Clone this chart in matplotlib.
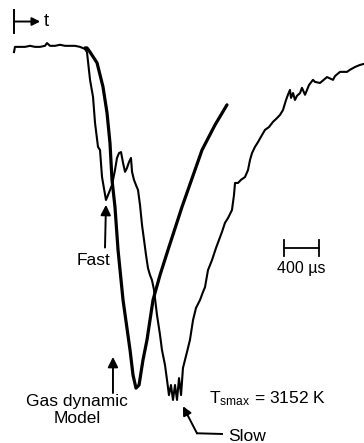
import matplotlib
matplotlib.use("Agg")
import matplotlib.pyplot as plt

# ---- data (time in microseconds, signal as % of the slow-trace maximum deflection) ----
exp_t = [0, 11, 69, 126, 183, 240, 297, 354, 377, 411, 469, 526, 583, 640, 697, 754, 811,
         834, 869, 903, 926, 960, 983, 1006, 1051, 1074, 1120, 1154, 1177, 1200, 1223,
         1246, 1269, 1291, 1314, 1337, 1349, 1371, 1394, 1417, 1440, 1463, 1486, 1509,
         1531, 1554, 1577, 1600, 1634, 1669, 1691, 1726, 1749, 1771, 1794, 1817, 1840,
         1863, 1886, 1909, 1931, 1954, 1977, 2011, 2046, 2080, 2126, 2160, 2183, 2217,
         2263, 2309, 2343, 2377, 2411, 2446, 2491, 2514, 2526, 2560, 2594, 2640, 2674,
         2697, 2720, 2754, 2789, 2834, 2869, 2914, 2960, 3006, 3040, 3074, 3109, 3131,
         3154, 3166, 3189, 3211, 3234, 3269, 3291, 3326, 3349, 3371, 3417, 3440, 3497,
         3577, 3646, 3669, 3726, 3806, 3840, 3897, 3954, 4000]
exp_v = [1.2, -0.3, -0.3, -0.3, -0.6, -0.3, -0.3, -0.6, -1.4, -0.6, -0.6, -0.9, -0.6, -0.6,
         -0.6, -0.3, 0.3,
         1.2, 9.2, 14.1, 21.6, 28.5, 29.4, 37.2, 43.8, 42.4, 39.5, 35.2, 31.7, 30.3, 30.0,
         33.1, 35.7, 34.6, 32.9, 31.7, 35.7, 38.0, 39.5, 40.9, 45.2, 51.0, 55.3, 59.7,
         63.4, 65.4, 66.9, 69.7, 76.9, 82.7, 87.0, 91.4, 95.7, 100.0, 97.1, 101.4, 97.1,
         101.4, 95.1, 100.0, 92.2, 89.9, 87.6, 84.1, 78.4, 74.9, 72.6, 70.3, 68.9, 64.0,
         61.1, 57.6, 55.3, 53.0, 50.4, 49.0, 46.7, 42.4, 38.9, 38.9, 38.0, 37.2, 35.2,
         32.3, 30.3, 28.5, 27.1, 25.1, 23.6, 22.8, 21.3, 20.2, 19.3, 17.9, 15.0, 13.5,
         12.1, 14.4, 13.0, 15.0, 13.8, 13.0, 11.5, 13.5, 12.1, 10.7, 9.2, 9.8, 10.1,
         8.4, 9.2, 8.1, 6.9, 6.9, 6.3, 5.5, 4.9, 4.6]

model_t = [811, 834, 869, 949, 1017, 1063, 1097, 1120, 1154, 1189, 1246, 1326, 1360, 1394,
           1429, 1474, 1520, 1589, 1669, 1760, 1920, 2149, 2297, 2434]
model_v = [0.0, 0.0, 1.2, 4.3, 11.2, 18.7, 27.4, 38.0, 45.8, 58.2, 72.6, 87.0, 94.2, 98.0,
           97.1, 89.9, 84.1, 72.6, 65.4, 58.2, 45.8, 29.4, 22.2, 16.4]

scale_bar_us = 400
t_smax_K = 3152

# ---- figure ----
plt.rcParams['font.family'] = ['Liberation Sans', 'DejaVu Sans']
plt.rcParams['mathtext.default'] = 'regular'

fig = plt.figure(figsize=(3.64, 4.43), dpi=100)
ax = fig.add_axes([0, 0, 1, 1])
ax.set_xlim(-160, 4000)
ax.set_ylim(113.8, -13.8)
ax.axis('off')

ax.plot(exp_t, exp_v, color='black', lw=1.5, solid_joinstyle='round')
ax.plot(model_t, model_v, color='black', lw=2.3, solid_joinstyle='round',
        solid_capstyle='round')

fs = 12.5
# time-direction marker
ax.plot([0, 0], [-10.9, -4.4], color='black', lw=1.4)
ax.annotate('', xy=(300, -7.6), xytext=(0, -7.6),
            arrowprops=dict(arrowstyle='-|>', color='black', lw=1.4,
                            mutation_scale=12, shrinkA=0, shrinkB=0))
ax.text(370, -7.6, 't', fontsize=fs + 1, ha='center', va='center')

# Fast
ax.annotate('', xy=(1051, 45.2), xytext=(1040, 57.5),
            arrowprops=dict(arrowstyle='-|>', color='black', lw=1.4,
                            mutation_scale=15, shrinkA=0, shrinkB=0))
ax.text(903, 61.1, 'Fast', fontsize=fs, ha='center', va='center')

# Gas dynamic model
ax.annotate('', xy=(1131, 89.0), xytext=(1131, 99.4),
            arrowprops=dict(arrowstyle='-|>', color='black', lw=1.4,
                            mutation_scale=15, shrinkA=0, shrinkB=0))
ax.text(720, 104.3, 'Gas dynamic\nModel', fontsize=fs, ha='center', va='center',
        multialignment='center', linespacing=1.2)

# Slow
ax.plot([2377, 2091], [111.2, 111.0], color='black', lw=1.4)
ax.annotate('', xy=(1931, 103.2), xytext=(2091, 111.0),
            arrowprops=dict(arrowstyle='-|>', color='black', lw=1.4,
                            mutation_scale=13, shrinkA=0, shrinkB=0))
ax.text(2663, 111.8, 'Slow', fontsize=fs, ha='center', va='center')

# T_smax
ax.text(2229, 100.9, r'T$_{smax}$ = %d K' % t_smax_K, fontsize=fs, ha='left', va='center')

# scale bar
x0 = 3086
ax.plot([x0, x0 + scale_bar_us], [57.6, 57.6], color='black', lw=1.3)
ax.plot([x0, x0], [55.3, 59.9], color='black', lw=1.3)
ax.plot([x0 + scale_bar_us, x0 + scale_bar_us], [55.3, 59.9], color='black', lw=1.3)
ax.text(x0 + scale_bar_us / 2, 63.4, '%d µs' % scale_bar_us, fontsize=fs - 1,
        ha='center', va='center')

fig.savefig('out.png', dpi=100)
